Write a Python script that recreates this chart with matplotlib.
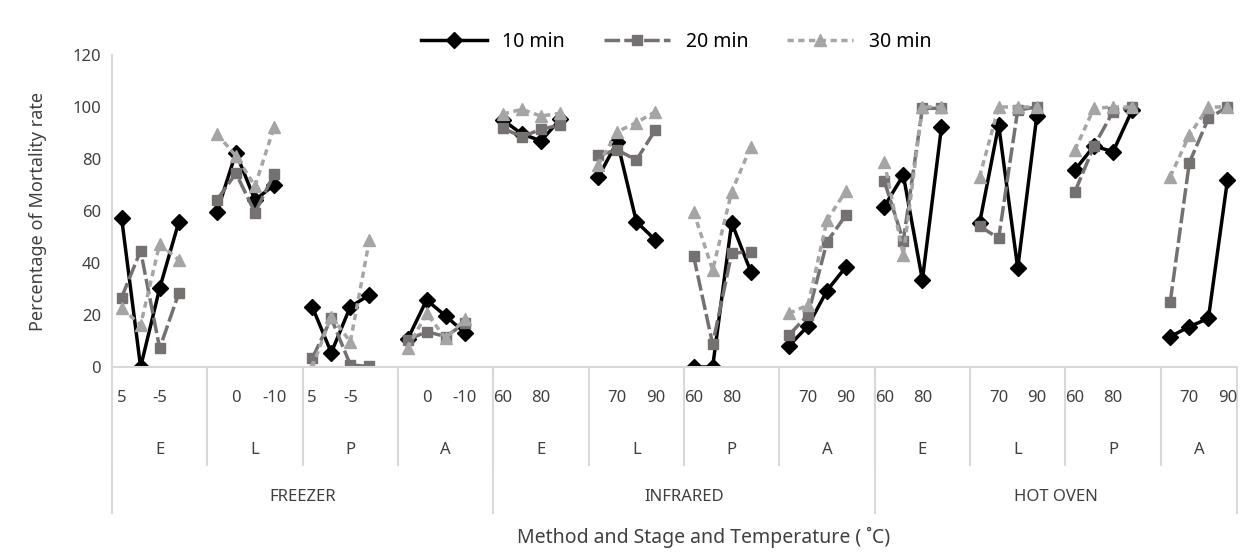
import matplotlib
matplotlib.use("Agg")
import matplotlib.pyplot as plt
import matplotlib.transforms as mtransforms
import numpy as np

# categories
methods = ["FREEZER", "INFRARED", "HOT OVEN"]
stages = ["E", "L", "P", "A"]
temps = {"FREEZER": ["5", "0", "-5", "-10"],
         "INFRARED": ["60", "70", "80", "90"],
         "HOT OVEN": ["60", "70", "80", "90"]}

# mortality (%), 4 temps per stage, stage order E L P A per method
min10 = [57.5, 0, 30.3, 55.7,   59.5, 82.4, 64.2, 70.0,   23.2, 5.5, 23.2, 27.7,   10.6, 25.8, 19.6, 13.2,
         95.0, 89.6, 87.0, 95.2,   73.0, 86.7, 55.9, 48.8,   0, 0, 55.5, 36.7,   8.1, 15.8, 29.4, 38.6,
         61.7, 73.8, 33.5, 92.2,   55.3, 93.1, 38.0, 96.5,   75.8, 85.0, 82.8, 98.8,   11.7, 15.5, 18.7, 71.9]
min20 = [26.7, 44.7, 7.2, 28.3,   64.2, 74.5, 59.4, 74.2,   3.3, 18.7, 0.8, 0.2,   10.4, 13.6, 11.7, 16.8,
         91.8, 88.6, 91.4, 93.1,   81.5, 83.5, 79.6, 91.2,   42.7, 8.8, 43.7, 44.4,   12.3, 20.0, 48.2, 58.5,
         71.5, 48.6, 99.5, 99.5,   54.2, 49.5, 98.8, 100,   67.4, 85.0, 98.2, 100,   25.1, 78.6, 95.6, 100]
min30 = [22.6, 16.2, 47.3, 41.2,   89.6, 81.2, 69.6, 92.2,   0, 19.4, 9.7, 48.8,   7.2, 20.6, 11.0, 18.3,
         97.3, 99.1, 96.5, 97.6,   77.7, 90.5, 94.0, 98.2,   59.7, 37.3, 67.4, 84.7,   20.6, 23.8, 56.5, 67.8,
         79.0, 43.1, 100, 100,   73.2, 100, 100, 100,   83.5, 99.5, 100, 100,   73.2, 89.2, 100, 100]

series = [("10 min", min10, "black", "-", "D", 8.5),
          ("20 min", min20, "#767171", (0, (4.5, 1.2)), "s", 7),
          ("30 min", min30, "#A5A5A5", (0, (1.8, 1.3)), "^", 8)]

plt.rcParams['font.family'] = ['Noto Sans', 'DejaVu Sans']
txt = '#404040'
grey = '#D9D9D9'

# Excel layout: each stage block has 4 temps plus one blank slot (last block has no blank)
nslots = len(methods) * len(stages) * 5 - 1
def slot_of(i):
    return (i // 4) * 5 + i % 4

fig = plt.figure(figsize=(12.55, 5.55), dpi=100)
ax = fig.add_axes([112 / 1255, 1 - 367 / 555, (1237 - 112) / 1255, 312 / 555])

for name, vals, col, ls, mk, ms in series:
    y = np.full(nslots, np.nan)
    for i, v in enumerate(vals):
        y[slot_of(i)] = v
    ax.plot(np.arange(nslots), y, color=col, linestyle=ls, lw=2.5, marker=mk,
            markersize=ms, markerfacecolor=col, markeredgecolor=col, label=name)

ax.set_xlim(-0.5, nslots - 0.5)
ax.set_ylim(0, 120)
ax.set_yticks(np.arange(0, 121, 20))
ax.tick_params(axis='y', length=0, labelsize=12, labelcolor=txt, pad=8)
ax.set_xticks([])
for s in ['top', 'right']:
    ax.spines[s].set_visible(False)
ax.spines['left'].set_color(grey)
ax.spines['bottom'].set_color(grey)
ax.spines['left'].set_linewidth(1.5)
ax.spines['bottom'].set_linewidth(1.5)

# multi-level category axis
tr = mtransforms.blended_transform_factory(ax.transData, ax.transAxes)
def ay(px):
    return (367 - px) / 312

k = 0
for m in methods:
    for st in stages:
        start = k * 5
        for j, t in enumerate(temps[m]):
            s = start + j
            if s % 2 == 0:
                ax.text(s, ay(398), t, transform=tr, ha='center', va='center',
                        fontsize=12, color=txt)
        end = min(start + 5, nslots)
        ax.text((start - 0.5 + end - 0.5) / 2, ay(450), st, transform=tr,
                ha='center', va='center', fontsize=12, color=txt)
        ax.plot([start - 0.5] * 2, [0, ay(465)], transform=tr, color=grey,
                lw=1.5, clip_on=False)
        k += 1
    mstart = methods.index(m) * 20 - 0.5
    mend = min(mstart + 20, nslots - 0.5)
    ax.text((mstart + mend) / 2, ay(497), m, transform=tr, ha='center',
            va='center', fontsize=12, color=txt)
    ax.plot([mstart] * 2, [0, ay(513)], transform=tr, color=grey, lw=1.5, clip_on=False)
ax.plot([nslots - 0.5] * 2, [0, ay(513)], transform=tr, color=grey, lw=1.5, clip_on=False)

ax.set_ylabel("Percentage of Mortality rate", fontsize=13, color=txt, labelpad=18)
fig.text(704 / 1255, 1 - 537 / 555, "Method and Stage and Temperature ( ˚C)",
         ha='center', va='center', fontsize=14, color=txt)

fig.legend(loc='center', bbox_to_anchor=(676 / 1255, 1 - 42 / 555), ncol=3,
           frameon=False, fontsize=14, handlelength=3.4, columnspacing=2.0)

fig.savefig("out.png", dpi=100)
